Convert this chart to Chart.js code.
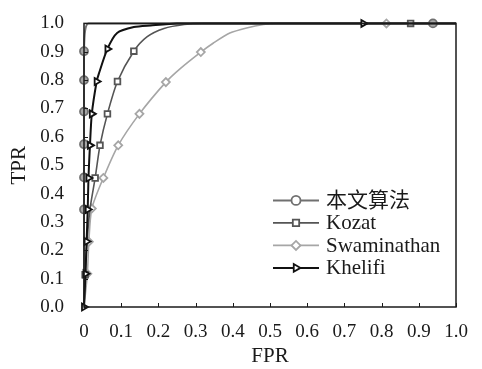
<!DOCTYPE html>
<html>
<head>
<meta charset="utf-8">
<script src="https://cdn.jsdelivr.net/npm/chart.js@4.4.0/dist/chart.umd.min.js"></script>
<style>
  html, body { margin: 0; padding: 0; background: #fff; }
</style>
</head>
<body>
<canvas id="roc" width="482" height="369"></canvas>
<script>
// series names (legend order)
const seriesNames = ["本文算法", "Kozat", "Swaminathan", "Khelifi"];

// 本文算法
const oursX = [0, 0, 0, 0, 0, 0, 0, 0, 0, 0.003, 0.012, 0.938, 1];
const oursY = [0, 0.114, 0.228, 0.344, 0.457, 0.574, 0.689, 0.80, 0.902, 0.975, 1.0, 1.0, 1.0];
const oursMarks = [3, 4, 5, 6, 7, 8, 11];

// Kozat
const kozatX = [0, 0.003, 0.008, 0.016, 0.03, 0.043, 0.063, 0.09, 0.134, 0.17, 0.215, 0.269, 0.32, 0.878, 1];
const kozatY = [0, 0.114, 0.228, 0.344, 0.455, 0.570, 0.681, 0.795, 0.902, 0.953, 0.982, 0.996, 1.0, 1.0, 1.0];
const kozatMarks = [1, 4, 5, 6, 7, 8, 13];

// Swaminathan
const swamX = [0, 0.009, 0.013, 0.021, 0.052, 0.092, 0.149, 0.220, 0.258, 0.314, 0.348, 0.392, 0.437, 0.482, 0.52, 0.813, 1];
const swamY = [0, 0.117, 0.23, 0.347, 0.455, 0.570, 0.681, 0.793, 0.84, 0.899, 0.931, 0.966, 0.984, 0.996, 1.0, 1.0, 1.0];
const swamMarks = [1, 2, 3, 4, 5, 6, 7, 9, 15];

// Khelifi
const khelX = [0, 0.004, 0.007, 0.01, 0.012, 0.016, 0.021, 0.034, 0.04, 0.063, 0.089, 0.134, 0.179, 0.25, 0.751, 1];
const khelY = [0, 0.117, 0.231, 0.344, 0.455, 0.570, 0.681, 0.795, 0.823, 0.91, 0.966, 0.987, 0.993, 1.0, 1.0, 1.0];
const khelMarks = [0, 1, 2, 3, 4, 5, 6, 7, 9, 14];

const xTickLabels = ["0", "0.1", "0.2", "0.3", "0.4", "0.5", "0.6", "0.7", "0.8", "0.9", "1.0"];
const yTickLabels = ["0.0", "0.1", "0.2", "0.3", "0.4", "0.5", "0.6", "0.7", "0.8", "0.9", "1.0"];

const serif = "'Liberation Serif', 'Noto Sans CJK SC', serif";
Chart.defaults.font.family = serif;
Chart.defaults.color = "#1a1a1a";

function toPoints(xs, ys) {
  return xs.map((x, i) => ({ x: x, y: ys[i] }));
}

function makeSet(name, xs, ys, marks, color, fill, style, lw, order) {
  return {
    label: name,
    data: toPoints(xs, ys),
    showLine: true,
    borderColor: color,
    backgroundColor: fill,
    borderWidth: lw,
    tension: 0.25,
    pointStyle: style === "tri" ? "triangle" : style,
    rotation: style === "tri" ? 90 : 0,
    pointRadius: ctx => (marks.includes(ctx.dataIndex) ? 4 : 0),
    pointBorderWidth: 1.8,
    pointBorderColor: color,
    pointBackgroundColor: fill,
    clip: 10,
    order: order
  };
}

// frame, inner tick marks and in-plot legend
const framePlugin = {
  id: "frame",
  afterDatasetsDraw(chart) {
    const { ctx, chartArea: a, scales } = chart;
    ctx.save();
    ctx.strokeStyle = "#1a1a1a";
    ctx.lineWidth = 1.5;
    ctx.strokeRect(a.left, a.top, a.right - a.left, a.bottom - a.top);
    ctx.lineWidth = 1;
    scales.x.ticks.forEach(t => {
      const px = Math.round(scales.x.getPixelForValue(t.value)) + 0.5;
      ctx.beginPath();
      ctx.moveTo(px, a.bottom);
      ctx.lineTo(px, a.bottom - 4);
      ctx.stroke();
    });
    scales.y.ticks.forEach(t => {
      const py = Math.round(scales.y.getPixelForValue(t.value)) + 0.5;
      ctx.beginPath();
      ctx.moveTo(a.left, py);
      ctx.lineTo(a.left + 4, py);
      ctx.stroke();
    });

    // legend
    const x0 = a.left + 189;
    const y0 = a.top + 177;
    ctx.font = "21px " + serif;
    ctx.textBaseline = "middle";
    ctx.textAlign = "left";
    chart.data.datasets.forEach((ds, i) => {
      const y = y0 + i * 22.5;
      ctx.strokeStyle = ds.borderColor;
      ctx.lineWidth = ds.borderWidth;
      ctx.beginPath();
      ctx.moveTo(x0, y);
      ctx.lineTo(x0 + 46, y);
      ctx.stroke();
      ctx.fillStyle = "#fff";
      ctx.lineWidth = 1.8;
      Chart.helpers.drawPoint(ctx, {
        pointStyle: ds.pointStyle,
        rotation: ds.rotation,
        radius: 4.5,
        borderWidth: 1.8
      }, x0 + 23, y);
      ctx.fillStyle = "#1a1a1a";
      ctx.fillText(ds.label, x0 + 53, y + 1);
    });
    ctx.restore();
  }
};

new Chart(document.getElementById("roc"), {
  type: "scatter",
  data: {
    datasets: [
      makeSet(seriesNames[0], oursX, oursY, oursMarks, "#707070", "#a8a8a8", "circle", 2, 1),
      makeSet(seriesNames[1], kozatX, kozatY, kozatMarks, "#555555", "#fff", "rect", 1.6, 2),
      makeSet(seriesNames[2], swamX, swamY, swamMarks, "#a6a6a6", "#fff", "rectRot", 1.6, 3),
      makeSet(seriesNames[3], khelX, khelY, khelMarks, "#111111", "#fff", "tri", 2, 0)
    ]
  },
  options: {
    responsive: false,
    animation: false,
    devicePixelRatio: 1,
    layout: { padding: { top: 13, right: 26, left: 0, bottom: 0 } },
    plugins: {
      legend: { display: false },
      tooltip: { enabled: false }
    },
    scales: {
      x: {
        type: "linear",
        min: 0,
        max: 1,
        grid: { display: false },
        border: { display: false },
        ticks: {
          stepSize: 0.1,
          padding: 6,
          maxRotation: 0,
          autoSkip: false,
          font: { size: 19 },
          callback: (v, i) => xTickLabels[i]
        },
        title: { display: true, text: "FPR", font: { size: 21 }, padding: { top: 0, bottom: 0 } },
        afterFit: s => { s.height = 62; }
      },
      y: {
        type: "linear",
        min: 0,
        max: 1,
        grid: { display: false },
        border: { display: false },
        ticks: {
          stepSize: 0.1,
          padding: 12,
          autoSkip: false,
          font: { size: 19 },
          callback: (v, i) => yTickLabels[i]
        },
        title: { display: true, text: "TPR", font: { size: 21 }, padding: { top: 7, bottom: 0 } },
        afterFit: s => { s.width = 84; }
      }
    }
  },
  plugins: [framePlugin]
});
</script>
</body>
</html>
